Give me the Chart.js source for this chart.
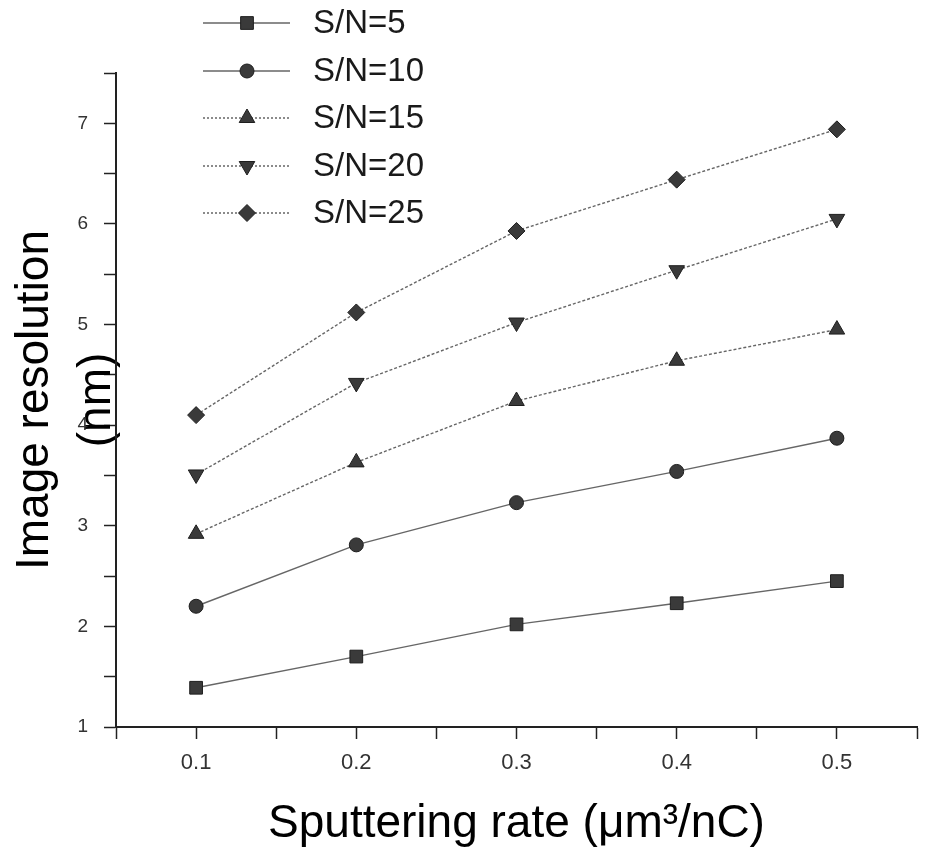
<!DOCTYPE html>
<html>
<head>
<meta charset="utf-8">
<script src="https://cdn.jsdelivr.net/npm/chart.js@4"></script>
<style>
  body { margin: 0; background: #fff; }
  #wrap { width: 928px; height: 847px; }
</style>
</head>
<body>
<div id="wrap"><canvas id="resChart" width="928" height="847"></canvas></div>
<script>
// sputtering rate (um^3/nC)
const rates = [0.1, 0.2, 0.3, 0.4, 0.5];

// image resolution (nm) for each S/N
const sn5  = [1.39, 1.70, 2.02, 2.23, 2.45];
const sn10 = [2.20, 2.81, 3.23, 3.54, 3.87];
const sn15 = [2.92, 3.63, 4.24, 4.64, 4.95];
const sn20 = [3.51, 4.42, 5.02, 5.54, 6.05];
const sn25 = [4.10, 5.12, 5.93, 6.44, 6.94];

const seriesNames = ['S/N=5', 'S/N=10', 'S/N=15', 'S/N=20', 'S/N=25'];
const yTickLabels = [1, 2, 3, 4, 5, 6, 7];
const xTickLabels = [0.1, 0.2, 0.3, 0.4, 0.5];

function toPoints(vals) {
    return rates.map((r, i) => ({ x: r, y: vals[i] }));
}

function makeSet(label, vals, style, radius, rotation, dash) {
    return {
        label: label,
        data: toPoints(vals),
        borderColor: '#666',
        borderWidth: 1.4,
        borderDash: dash,
        pointStyle: style,
        pointRadius: radius,
        pointRotation: rotation,
        pointBackgroundColor: '#3a3a3a',
        pointBorderColor: '#1e1e1e',
        pointBorderWidth: 1,
        fill: false,
        tension: 0
    };
}

const datasets = [
    makeSet(seriesNames[0], sn5, 'rect', 9, 0, []),
    makeSet(seriesNames[1], sn10, 'circle', 7, 0, []),
    makeSet(seriesNames[2], sn15, 'triangle', 9, 0, [3, 2]),
    makeSet(seriesNames[3], sn20, 'triangle', 9, 180, [3, 2]),
    makeSet(seriesNames[4], sn25, 'rectRot', 8.5, 0, [3, 2])
];

// legend drawn in the upper left, overlapping the plot like the original
const sideLegend = {
    id: 'sideLegend',
    afterDraw(chart) {
        const ctx = chart.ctx;
        const rowY = [23, 71, 118, 166, 213];
        ctx.save();
        chart.data.datasets.forEach((ds, i) => {
            const y = rowY[i];
            ctx.strokeStyle = ds.borderColor;
            ctx.lineWidth = ds.borderWidth;
            ctx.setLineDash(i < 2 ? [] : [2, 2]);
            ctx.beginPath();
            ctx.moveTo(203, y);
            ctx.lineTo(290, y);
            ctx.stroke();
            ctx.setLineDash([]);
            ctx.fillStyle = ds.pointBackgroundColor;
            ctx.strokeStyle = ds.pointBorderColor;
            ctx.lineWidth = 1;
            Chart.helpers.drawPoint(ctx, {
                pointStyle: ds.pointStyle,
                rotation: ds.pointRotation,
                radius: ds.pointRadius,
                borderWidth: 1
            }, 247, y);
            ctx.fillStyle = '#1a1a1a';
            ctx.font = '33px Arial, "Liberation Sans", sans-serif';
            ctx.textAlign = 'left';
            ctx.textBaseline = 'middle';
            ctx.fillText(ds.label, 313, y + 1);
        });
        ctx.restore();
    }
};

const ctx = document.getElementById('resChart').getContext('2d');
new Chart(ctx, {
    type: 'line',
    data: { datasets: datasets },
    options: {
        responsive: false,
        animation: false,
        layout: { padding: { top: 73, right: 5, left: 0, bottom: 0 } },
        plugins: {
            legend: { display: false },
            tooltip: { enabled: false }
        },
        scales: {
            x: {
                type: 'linear',
                min: 0.05,
                max: 0.55,
                afterFit: (scale) => { scale.height = 120; },
                ticks: {
                    stepSize: 0.05,
                    padding: 11,
                    color: '#333',
                    font: { family: 'Arial, "Liberation Sans", sans-serif', size: 22 },
                    callback: function(value) {
                        const k = Math.round(value * 100);
                        if (k % 10 !== 0) return '';
                        const v = k / 100;
                        return xTickLabels.includes(v) ? v.toFixed(1) : '';
                    }
                },
                grid: {
                    drawOnChartArea: false,
                    drawTicks: true,
                    tickLength: 12,
                    tickColor: '#222',
                    tickWidth: 1.5
                },
                border: { color: '#222', width: 2 },
                title: {
                    display: true,
                    text: 'Sputtering rate (\u03bcm\u00b3/nC)',
                    color: '#000',
                    font: { family: 'Arial, "Liberation Sans", sans-serif', size: 46, lineHeight: 1 },
                    padding: { top: 0, bottom: 0 }
                }
            },
            y: {
                min: 1,
                max: 7.5,
                afterFit: (scale) => { scale.width = 116; },
                ticks: {
                    stepSize: 0.5,
                    padding: 16,
                    color: '#333',
                    font: { family: 'Arial, "Liberation Sans", sans-serif', size: 19 },
                    callback: function(value) {
                        return yTickLabels.includes(value) ? String(value) : '';
                    }
                },
                grid: {
                    drawOnChartArea: false,
                    drawTicks: true,
                    tickLength: 12,
                    tickColor: '#222',
                    tickWidth: 1.5
                },
                border: { color: '#222', width: 2 },
                title: {
                    display: true,
                    text: ['Image resolution', '(nm)'],
                    color: '#000',
                    font: { family: 'Arial, "Liberation Sans", sans-serif', size: 46, lineHeight: 1.35 },
                    padding: { top: 4, bottom: 0 }
                }
            }
        }
    },
    plugins: [sideLegend]
});
</script>
</body>
</html>
